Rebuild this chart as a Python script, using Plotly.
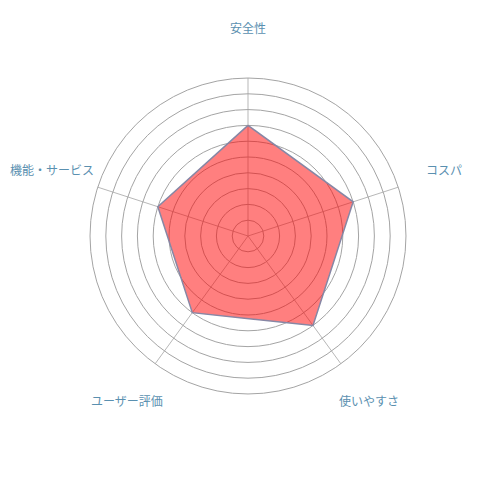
import plotly.graph_objects as go

categories = ["安全性", "コスパ", "使いやすさ", "ユーザー評価", "機能・サービス"]
values = [7, 7, 7, 6, 6]
tick_vals = [1, 2, 3, 4, 5, 6, 7, 8, 9, 10]
scale_max = 10
label_r = 13.04

GRID = "#a4a4a4"
LABEL = "#5a90b0"

# spokes from centre to outer ring, one per category
spoke_r, spoke_t = [], []
for c in categories:
    spoke_r += [0, scale_max, None]
    spoke_t += [c, c, None]

fig = go.Figure()
fig.add_trace(go.Scatterpolar(
    r=spoke_r, theta=spoke_t, mode="lines",
    line=dict(color=GRID, width=0.8),
    hoverinfo="skip", showlegend=False, connectgaps=False,
))
fig.add_trace(go.Scatterpolar(
    r=values + values[:1],
    theta=categories + categories[:1],
    mode="lines",
    fill="toself",
    fillcolor="rgba(255,0,0,0.5)",
    line=dict(color="rgb(135,135,165)", width=1.5),
    hoverinfo="skip",
    showlegend=False,
))
fig.add_trace(go.Scatterpolar(
    r=[label_r] * len(categories),
    theta=categories,
    mode="text",
    text=categories,
    textposition="middle center",
    textfont=dict(family="Noto Sans CJK JP", size=12, color=LABEL),
    cliponaxis=False,
    hoverinfo="skip",
    showlegend=False,
))

fig.update_layout(
    width=500, height=500,
    margin=dict(l=0, r=0, t=0, b=0),
    paper_bgcolor="white",
    plot_bgcolor="white",
    font=dict(family="Noto Sans CJK JP", size=12, color=LABEL),
    polar=dict(
        domain=dict(x=[0.068, 0.892], y=[0.132, 0.956]),
        bgcolor="white",
        radialaxis=dict(
            range=[0, label_r], tickvals=tick_vals, showticklabels=False,
            ticks="", showline=False, gridcolor=GRID, gridwidth=0.8,
        ),
        angularaxis=dict(
            direction="clockwise", rotation=90,
            showline=False, showgrid=False,
            ticks="", showticklabels=False,
        ),
    ),
)

fig.write_html("out.html")
